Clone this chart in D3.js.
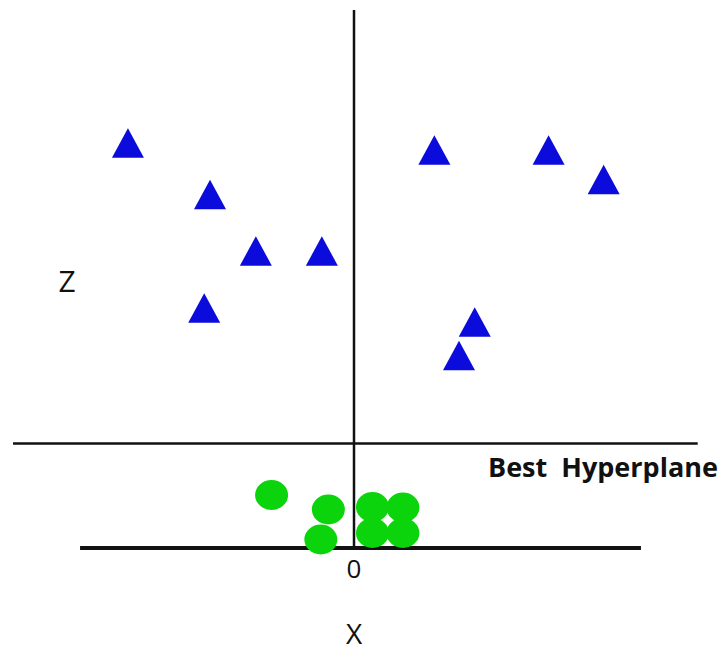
<!DOCTYPE html>
<html>
<head>
<meta charset="utf-8">
<script src="https://cdn.jsdelivr.net/npm/d3@7"></script>
<style>
  html, body { margin: 0; padding: 0; background: #fff; }
  svg { display: block; }
</style>
</head>
<body>
<script>
// Class A (triangles): feature x and lifted feature z
const triX = [-6.61, -4.21, -2.87, -0.94, -4.38, 2.35, 5.69, 7.30, 3.53, 3.07];
const triZ = [ 8.10,  7.07,  5.94,  5.94,  4.80, 7.96, 7.96, 7.37, 4.52, 3.85];

// Class B (circles)
const dotX = [-2.41, -0.75, -0.97, 0.54, 1.43, 0.54, 1.43];
const dotZ = [ 1.06,  0.77,  0.17, 0.82, 0.81, 0.30, 0.30];

// Separating line in the (x, z) plane
const hyperplaneZ = 2.09;
const hyperplaneExtent = [-9.97, 10.05];
const baselineExtent = [-8.01, 8.39];
const zAxisTop = 10.76;

const originLabel = "0";
const xLabel = "X";
const zLabel = "Z";
const planeLabel = "Best  Hyperplane";

const W = 724, H = 651;
const x = d3.scaleLinear().domain([-10, 10]).range([12, 696]);
const z = d3.scaleLinear().domain([0, 10]).range([548, 48]);

const svg = d3.select("body").append("svg")
  .attr("width", W).attr("height", H);

// vertical z axis through the origin
svg.append("line")
  .attr("x1", x(0)).attr("x2", x(0))
  .attr("y1", z(zAxisTop)).attr("y2", z(0))
  .attr("stroke", "#111").attr("stroke-width", 2.5);

// hyperplane
svg.append("line")
  .attr("x1", x(hyperplaneExtent[0])).attr("x2", x(hyperplaneExtent[1]))
  .attr("y1", z(hyperplaneZ)).attr("y2", z(hyperplaneZ))
  .attr("stroke", "#111").attr("stroke-width", 2.5);

// x baseline
svg.append("line")
  .attr("x1", x(baselineExtent[0])).attr("x2", x(baselineExtent[1]))
  .attr("y1", z(0)).attr("y2", z(0))
  .attr("stroke", "#111").attr("stroke-width", 4);

// triangle marker: 32 wide, 29.5 tall, centred on its mid-height
const triPath = d3.line()([[0, -14.75], [16, 14.75], [-16, 14.75]]) + "Z";

svg.append("g").selectAll("path")
  .data(d3.range(triX.length))
  .join("path")
  .attr("d", triPath)
  .attr("transform", i => `translate(${x(triX[i])},${z(triZ[i])})`)
  .attr("fill", "#0b0bdc");

svg.append("g").selectAll("ellipse")
  .data(d3.range(dotX.length))
  .join("ellipse")
  .attr("cx", i => x(dotX[i]))
  .attr("cy", i => z(dotZ[i]))
  .attr("rx", 16.5)
  .attr("ry", 15)
  .attr("fill", "#0cd40c");

const font = "'Open Sans', 'Noto Sans', sans-serif";

svg.append("text")
  .attr("x", x(0)).attr("y", 578)
  .attr("text-anchor", "middle")
  .attr("font-family", font).attr("font-size", 26)
  .attr("fill", "#111")
  .text(originLabel);

svg.append("text")
  .attr("x", x(0)).attr("y", 644)
  .attr("text-anchor", "middle")
  .attr("font-family", font).attr("font-size", 28)
  .attr("fill", "#111")
  .text(xLabel);

svg.append("text")
  .attr("x", 67).attr("y", 292)
  .attr("text-anchor", "middle")
  .attr("font-family", font).attr("font-size", 30)
  .attr("fill", "#111")
  .text(zLabel);

svg.append("text")
  .attr("x", 488).attr("y", 476.5)
  .attr("font-family", font).attr("font-size", 27)
  .attr("font-weight", "bold")
  .attr("fill", "#111")
  .style("white-space", "pre")
  .text(planeLabel);
</script>
</body>
</html>
